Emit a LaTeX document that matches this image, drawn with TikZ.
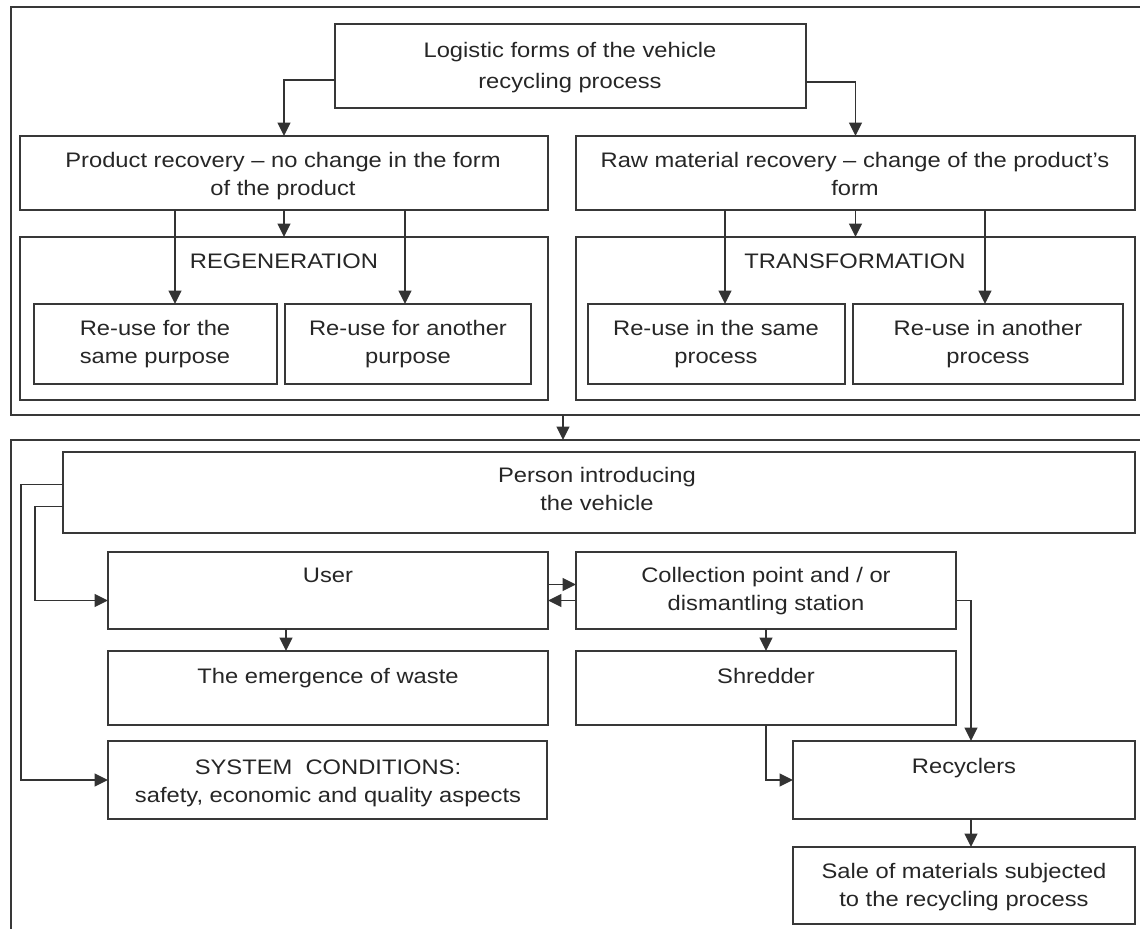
\documentclass[tikz,border=0pt]{standalone}
\usepackage{fontspec}
\setmainfont{Liberation Sans}[FakeStretch=1.13]
\usetikzlibrary{arrows.meta,calc}
\newcommand\pbox[5]{\node[box, anchor=north west, minimum width={(#4-(#2))*0.75pt}, minimum height={(#5-(#3))*0.75pt}] (#1) at (#2,#3) {};}
\begin{document}
\begin{tikzpicture}[x=0.75pt,y=-0.75pt,
  box/.style={draw=black!78, line width=1.4pt, rectangle, inner sep=0pt, outer sep=0pt},
  txt/.style={align=center, text=black!85, font=\fontsize{15.75pt}{21pt}\selectfont, inner sep=0pt, anchor=base},
  arr/.style={draw=black!80, line width=1.3pt, -{Triangle[length=10pt,width=9.5pt]}},
  ]
\useasboundingbox (0,0) rectangle (1140,929);
\clip (0,0) rectangle (1140,929);
% frames
\pbox{fr1}{11}{7}{1160}{415}
\pbox{fr2}{11}{440}{1160}{960}
% top part
\pbox{log}{335}{24}{806}{108}
\pbox{prod}{20}{136}{548}{210}
\pbox{raw}{576}{136}{1135}{210}
\pbox{regen}{20}{237}{548}{400}
\pbox{trans}{576}{237}{1135}{400}
\pbox{rs}{34}{304}{277}{384}
\pbox{ra}{285}{304}{531}{384}
\pbox{ps}{588}{304}{845}{384}
\pbox{pa}{853}{304}{1123}{384}
% bottom part
\pbox{per}{63}{452}{1135}{533}
\pbox{user}{108}{552}{548}{629}
\pbox{col}{576}{552}{956}{629}
\pbox{emer}{108}{651}{548}{725}
\pbox{shr}{576}{651}{956}{725}
\pbox{sys}{108}{741}{547}{819}
\pbox{rec}{793}{741}{1135}{819}
\pbox{sale}{793}{847}{1135}{924}
% texts (multi-line nodes: base = last line)
\node[txt, font=\fontsize{15.75pt}{23pt}\selectfont] (logt) at (570,88) {Logistic forms of the vehicle\\recycling process};
\node[txt] (prodt) at (283,195) {Product recovery -- no change in the form\\of the product};
\node[txt] (rawt) at (855,195) {Raw material recovery -- change of the product's\\form};
\node[txt] (regent) at (284,268) {REGENERATION};
\node[txt] (transt) at (855,268) {TRANSFORMATION};
\node[txt] (rst) at (155,363) {Re-use for the\\same purpose};
\node[txt] (rat) at (408,363) {Re-use for another\\purpose};
\node[txt] (pst) at (716,363) {Re-use in the same\\process};
\node[txt] (pat) at (988,363) {Re-use in another\\process};
\node[txt] (pert) at (597,510) {Person introducing\\the vehicle};
\node[txt] (usert) at (328,582) {User};
\node[txt] (colt) at (766,610) {Collection point and / or\\dismantling station};
\node[txt] (emert) at (328,683) {The emergence of waste};
\node[txt] (shrt) at (766,683) {Shredder};
\node[txt] (syst) at (328,802) {SYSTEM\ \ CONDITIONS:\\safety, economic and quality aspects};
\node[txt] (rect) at (964,773) {Recyclers};
\node[txt] (salet) at (964,906) {Sale of materials subjected\\to the recycling process};
% helper x positions
\coordinate (xa) at (175,0);
\coordinate (xb) at (405,0);
\coordinate (xc) at (725,0);
\coordinate (xd) at (985,0);
\coordinate (xm) at (563,0);
\coordinate (l1) at (21,0);
\coordinate (l2) at (35,0);
\coordinate (xu) at (286,0);
\coordinate (xr) at (971,0);
% connectors top
\draw[arr] ($(log.west)+(0,14)$) -| (prod.north);
\draw[arr] ($(log.east)+(0,16)$) -| (raw.north);
\draw[arr] (prod.south) -- (regen.north);
\draw[arr] (prod.south -| xa) -- (rs.north -| xa);
\draw[arr] (prod.south -| xb) -- (ra.north -| xb);
\draw[arr] (raw.south) -- (trans.north);
\draw[arr] (raw.south -| xc) -- (ps.north -| xc);
\draw[arr] (raw.south -| xd) -- (pa.north -| xd);
\draw[arr] (fr1.south -| xm) -- (fr2.north -| xm);
% connectors bottom
\coordinate (uin) at ($(user.west)+(0,10)$);
\draw[arr] ($(per.west)+(0,-8)$) -| (l1 |- sys.west) -- (sys.west);
\draw[arr] ($(per.west)+(0,14)$) -| (l2 |- uin) -- (uin);
\draw[arr] ($(user.east)+(0,-6)$) -- ($(col.west)+(0,-6)$);
\draw[arr] ($(col.west)+(0,10)$) -- ($(user.east)+(0,10)$);
\draw[arr] (user.south -| xu) -- (emer.north -| xu);
\draw[arr] (col.south) -- (shr.north);
\draw[arr] ($(col.east)+(0,10)$) -| (rec.north -| xr);
\draw[arr] (shr.south) |- (rec.west);
\draw[arr] (rec.south -| xr) -- (sale.north -| xr);
\end{tikzpicture}
\end{document}
